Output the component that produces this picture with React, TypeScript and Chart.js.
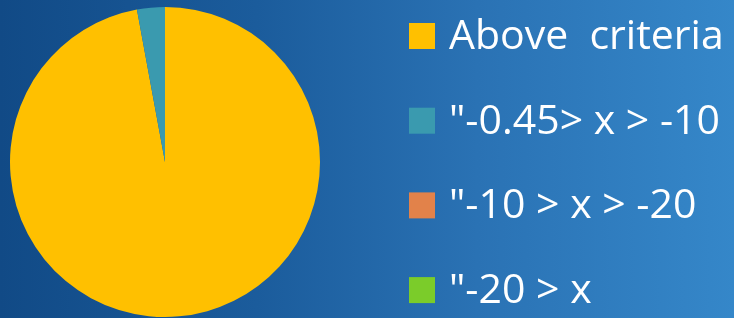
import React, { useEffect, useRef } from "react";
import { Chart, registerables } from "chart.js";

Chart.register(...registerables);

const categories = ["Above  criteria", "\"-0.45> x > -10", "\"-10 > x > -20", "\"-20 > x"];
const shares = [97.1, 2.9, 0, 0];
const colors = ["#FFC000", "#3A9AAF", "#E2824A", "#7BCC2A"];

const legendPlugin = {
  id: "sideLegend",
  afterDraw(chart: any) {
    const ctx = chart.ctx;
    const labels: string[] = chart.data.labels;
    const bg: string[] = chart.data.datasets[0].backgroundColor;
    const x0 = 409;
    const box = 26;
    const top = 49;
    const step = 84.7;
    ctx.save();
    ctx.font = "41px 'Open Sans'";
    ctx.textBaseline = "alphabetic";
    ctx.textAlign = "left";
    labels.forEach((t, i) => {
      const base = top + i * step;
      ctx.fillStyle = bg[i];
      ctx.fillRect(x0, base - box, box, box);
      ctx.fillStyle = "#FFFFFF";
      ctx.fillText(t, 449, base);
    });
    ctx.restore();
  },
};

export default function App() {
  const ref = useRef<HTMLCanvasElement>(null);
  useEffect(() => {
    document.body.style.margin = "0";
    const chart = new Chart(ref.current!, {
      type: "pie",
      data: {
        labels: categories,
        datasets: [
          {
            data: shares,
            backgroundColor: colors,
            borderWidth: 0,
          },
        ],
      },
      options: {
        responsive: false,
        animation: false,
        layout: { padding: { left: 10, top: 7, bottom: 1, right: 414 } },
        plugins: { legend: { display: false }, tooltip: { enabled: false } },
      },
      plugins: [legendPlugin],
    });
    return () => chart.destroy();
  }, []);
  return (
    <div
      style={{
        width: 734,
        height: 318,
        background: "linear-gradient(90deg, #114A86 0%, #1B5C9C 35%, #2A72B4 65%, #3587C9 100%)",
      }}
    >
      <canvas ref={ref} width={734} height={318} />
    </div>
  );
}
